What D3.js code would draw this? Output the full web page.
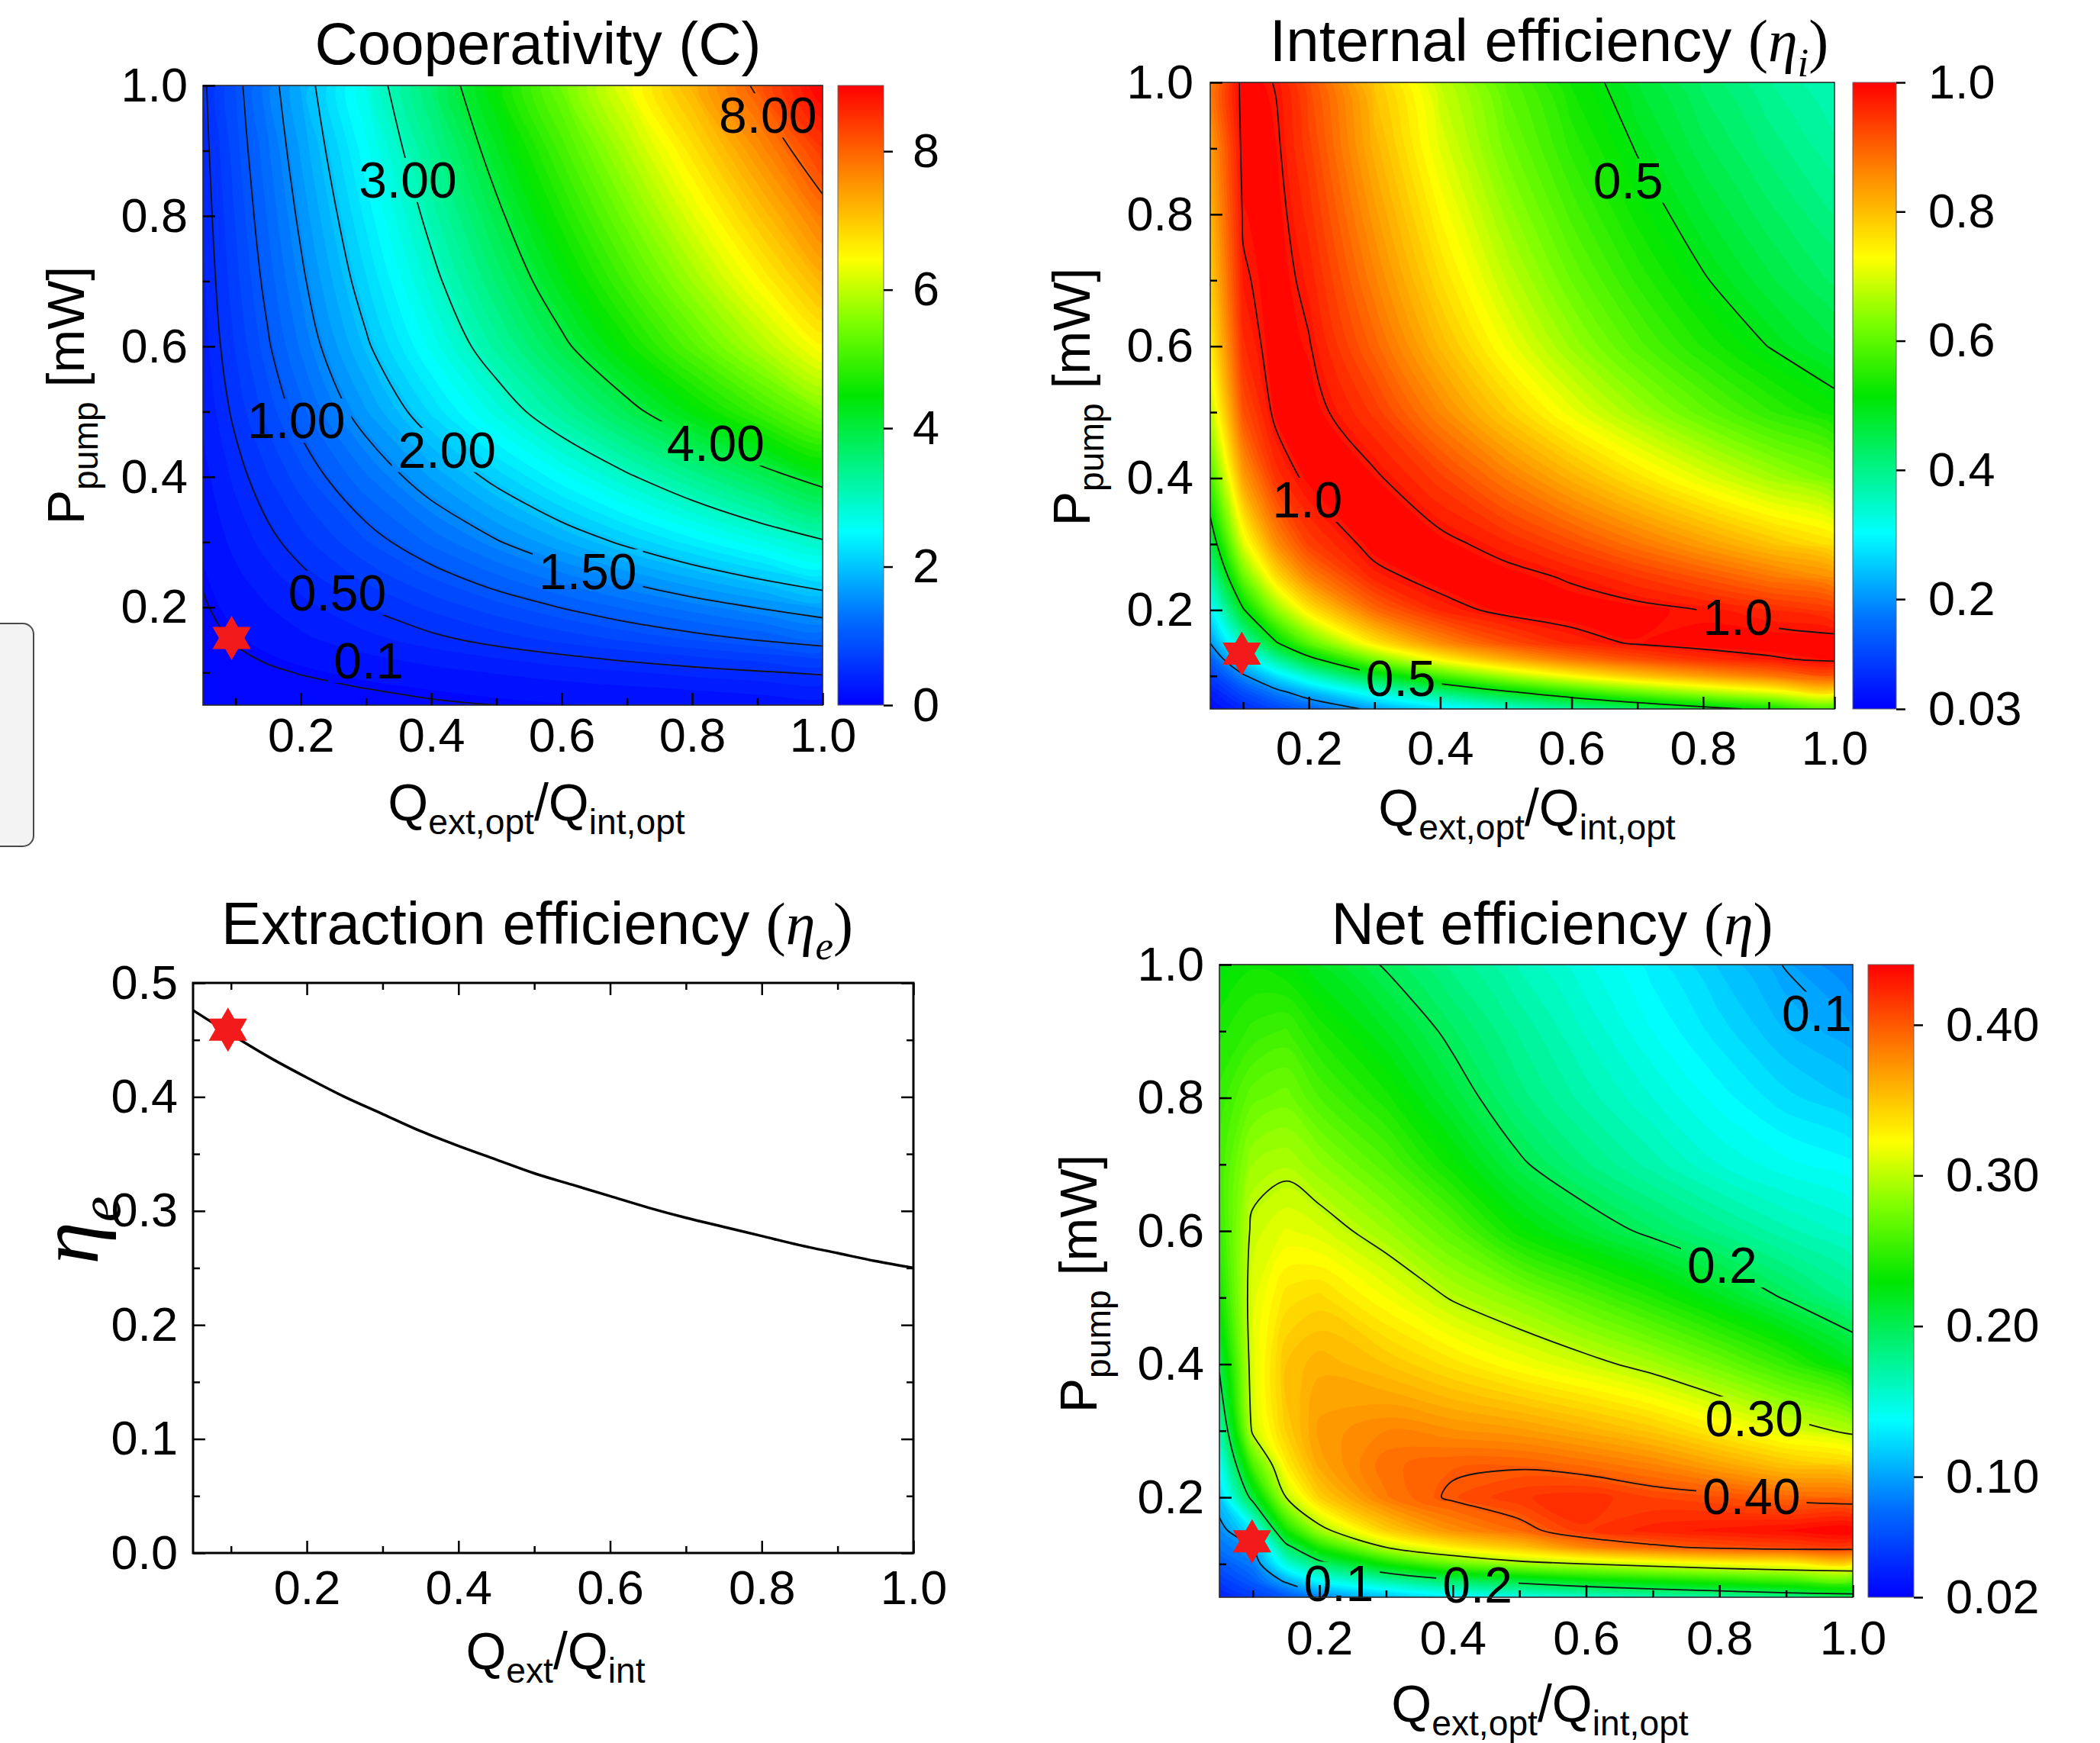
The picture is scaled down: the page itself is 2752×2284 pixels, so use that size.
<!DOCTYPE html>
<html>
<head>
<meta charset="utf-8">
<script src="https://cdn.jsdelivr.net/npm/d3@7"></script>
<style>
  body { margin: 0; background: #fff; }
</style>
</head>
<body>
<svg id="fig" width="2752" height="2284"></svg>
<script>
// grid axes shared by the three maps
const qRatio = [0.05, 0.1, 0.15, 0.2, 0.3, 0.4, 0.5, 0.6, 0.7, 0.8, 0.9, 1.0];
const pPump = [0.05, 0.075, 0.1, 0.125, 0.15, 0.2, 0.25, 0.3, 0.4, 0.5, 0.6, 0.7, 0.8, 0.9, 1.0];

// cooperativity C, one row per pump power
const coopGrid = [
  [0.01, 0.02, 0.03, 0.04, 0.06, 0.08, 0.1, 0.12, 0.14, 0.16, 0.18, 0.2],
  [0.017, 0.033, 0.05, 0.066, 0.099, 0.132, 0.165, 0.198, 0.231, 0.264, 0.297, 0.33],
  [0.027, 0.053, 0.08, 0.106, 0.159, 0.212, 0.265, 0.318, 0.371, 0.424, 0.477, 0.53],
  [0.04, 0.08, 0.12, 0.16, 0.24, 0.32, 0.4, 0.48, 0.56, 0.64, 0.72, 0.8],
  [0.056, 0.112, 0.168, 0.224, 0.336, 0.448, 0.56, 0.672, 0.784, 0.896, 1.008, 1.12],
  [0.084, 0.168, 0.252, 0.336, 0.504, 0.672, 0.84, 1.008, 1.176, 1.344, 1.512, 1.68],
  [0.115, 0.23, 0.345, 0.46, 0.69, 0.92, 1.15, 1.38, 1.61, 1.84, 2.07, 2.3],
  [0.148, 0.295, 0.443, 0.59, 0.885, 1.18, 1.475, 1.77, 2.065, 2.36, 2.655, 2.95],
  [0.21, 0.42, 0.63, 0.84, 1.26, 1.68, 2.1, 2.52, 2.94, 3.36, 3.78, 4.2],
  [0.275, 0.55, 0.825, 1.1, 1.65, 2.2, 2.75, 3.3, 3.85, 4.4, 4.95, 5.5],
  [0.325, 0.65, 0.975, 1.3, 1.95, 2.6, 3.25, 3.9, 4.55, 5.2, 5.85, 6.5],
  [0.36, 0.72, 1.08, 1.44, 2.16, 2.88, 3.6, 4.32, 5.04, 5.76, 6.48, 7.2],
  [0.39, 0.78, 1.17, 1.56, 2.34, 3.12, 3.9, 4.68, 5.46, 6.24, 7.02, 7.8],
  [0.42, 0.84, 1.26, 1.68, 2.52, 3.36, 4.2, 5.04, 5.88, 6.72, 7.56, 8.4],
  [0.45, 0.9, 1.35, 1.8, 2.7, 3.6, 4.5, 5.4, 6.3, 7.2, 8.1, 9.0]
];

// internal efficiency
const etaIntGrid = [
  [0.039, 0.077, 0.113, 0.148, 0.214, 0.274, 0.331, 0.383, 0.431, 0.476, 0.517, 0.556],
  [0.064, 0.124, 0.180, 0.232, 0.328, 0.412, 0.486, 0.552, 0.610, 0.661, 0.706, 0.746],
  [0.101, 0.191, 0.273, 0.347, 0.474, 0.577, 0.662, 0.732, 0.790, 0.836, 0.875, 0.906],
  [0.148, 0.274, 0.383, 0.476, 0.624, 0.735, 0.816, 0.877, 0.920, 0.952, 0.974, 0.988],
  [0.201, 0.362, 0.493, 0.598, 0.753, 0.855, 0.920, 0.962, 0.985, 0.997, 1.000, 0.997],
  [0.286, 0.493, 0.643, 0.753, 0.891, 0.962, 0.992, 1.000, 0.993, 0.979, 0.959, 0.936],
  [0.370, 0.608, 0.763, 0.863, 0.966, 0.998, 0.995, 0.975, 0.945, 0.913, 0.879, 0.845],
  [0.448, 0.704, 0.851, 0.934, 0.996, 0.993, 0.963, 0.923, 0.879, 0.836, 0.795, 0.756],
  [0.574, 0.833, 0.949, 0.992, 0.987, 0.936, 0.874, 0.814, 0.758, 0.707, 0.662, 0.621],
  [0.677, 0.916, 0.991, 0.998, 0.940, 0.859, 0.782, 0.714, 0.655, 0.604, 0.559, 0.521],
  [0.741, 0.955, 1.000, 0.983, 0.896, 0.803, 0.720, 0.650, 0.591, 0.541, 0.499, 0.462],
  [0.779, 0.974, 0.999, 0.968, 0.865, 0.765, 0.681, 0.611, 0.553, 0.504, 0.463, 0.428],
  [0.807, 0.985, 0.994, 0.952, 0.839, 0.735, 0.650, 0.580, 0.523, 0.476, 0.437, 0.403],
  [0.833, 0.992, 0.987, 0.936, 0.814, 0.707, 0.621, 0.553, 0.497, 0.451, 0.413, 0.380],
  [0.856, 0.997, 0.978, 0.918, 0.789, 0.681, 0.595, 0.527, 0.473, 0.428, 0.391, 0.360]
];

// net efficiency
const etaNetGrid = [
  [0.035, 0.05, 0.065, 0.085, 0.11, 0.13, 0.145, 0.155, 0.165, 0.172, 0.18, 0.185],
  [0.05, 0.07, 0.105, 0.14, 0.17, 0.195, 0.21, 0.225, 0.235, 0.245, 0.255, 0.26],
  [0.065, 0.085, 0.15, 0.19, 0.235, 0.27, 0.29, 0.30, 0.31, 0.32, 0.325, 0.33],
  [0.08, 0.097, 0.19, 0.24, 0.30, 0.33, 0.35, 0.38, 0.395, 0.405, 0.41, 0.41],
  [0.09, 0.13, 0.235, 0.29, 0.345, 0.375, 0.392, 0.415, 0.425, 0.43, 0.435, 0.44],
  [0.115, 0.21, 0.30, 0.345, 0.385, 0.403, 0.415, 0.42, 0.41, 0.405, 0.395, 0.39],
  [0.14, 0.26, 0.33, 0.365, 0.39, 0.397, 0.397, 0.39, 0.38, 0.365, 0.35, 0.34],
  [0.165, 0.305, 0.345, 0.37, 0.38, 0.375, 0.37, 0.36, 0.348, 0.33, 0.312, 0.295],
  [0.205, 0.312, 0.35, 0.36, 0.35, 0.335, 0.32, 0.307, 0.292, 0.273, 0.25, 0.22],
  [0.235, 0.312, 0.335, 0.34, 0.32, 0.298, 0.282, 0.262, 0.242, 0.22, 0.198, 0.178],
  [0.25, 0.305, 0.315, 0.31, 0.29, 0.265, 0.232, 0.212, 0.195, 0.18, 0.166, 0.155],
  [0.255, 0.29, 0.295, 0.285, 0.262, 0.232, 0.203, 0.183, 0.167, 0.152, 0.142, 0.135],
  [0.25, 0.27, 0.275, 0.26, 0.238, 0.21, 0.185, 0.167, 0.152, 0.137, 0.124, 0.115],
  [0.24, 0.25, 0.255, 0.24, 0.218, 0.195, 0.175, 0.157, 0.14, 0.125, 0.11, 0.099],
  [0.225, 0.235, 0.23, 0.218, 0.198, 0.18, 0.163, 0.147, 0.131, 0.115, 0.099, 0.085]
];

// extraction efficiency curve
const qExtRatio = [0.05, 0.1, 0.15, 0.2, 0.25, 0.3, 0.35, 0.4, 0.45, 0.5, 0.55, 0.6, 0.65, 0.7, 0.75, 0.8, 0.85, 0.9, 0.95, 1.0];
const etaExt = [0.476, 0.455, 0.435, 0.417, 0.400, 0.385, 0.370, 0.357, 0.345, 0.333, 0.323, 0.313, 0.303, 0.294, 0.286, 0.278, 0.270, 0.263, 0.256, 0.250];

// ticks
const majorTicks = [0.2, 0.4, 0.6, 0.8, 1.0];
const minorTicks = [0.1, 0.3, 0.5, 0.7, 0.9];
const etaTicks = [0, 0.1, 0.2, 0.3, 0.4, 0.5];
const etaMinorTicks = [0.05, 0.15, 0.25, 0.35, 0.45];
const coopBarTicks = [0, 2, 4, 6, 8];
const coopBarLabels = ["0", "2", "4", "6", "8"];
const intBarTicks = [0.03, 0.2, 0.4, 0.6, 0.8, 1.0];
const intBarLabels = ["0.03", "0.2", "0.4", "0.6", "0.8", "1.0"];
const netBarTicks = [0.02, 0.1, 0.2, 0.3, 0.4];
const netBarLabels = ["0.02", "0.10", "0.20", "0.30", "0.40"];

// contour levels and where their labels sit [text, Q ratio, P]
const coopLevels = [0.1, 0.5, 1, 1.5, 2, 3, 4, 8];
const coopLabels = [["8.00", 0.916, 0.955], ["3.00", 0.364, 0.856], ["1.00", 0.193, 0.487], ["2.00", 0.424, 0.442],
                    ["4.00", 0.836, 0.452], ["1.50", 0.64, 0.256], ["0.50", 0.256, 0.223], ["0.1", 0.304, 0.119]];
const intLevels = [0.2, 0.5, 0.98];
const intLabels = [["0.5", 0.686, 0.852], ["1.0", 0.198, 0.368], ["1.0", 0.853, 0.19], ["0.5", 0.34, 0.097]];
const netLevels = [0.1, 0.2, 0.3, 0.4];
const netLabels = [["0.1", 0.946, 0.927], ["0.2", 0.804, 0.549], ["0.30", 0.852, 0.319], ["0.40", 0.848, 0.202],
                   ["0.1", 0.229, 0.071], ["0.2", 0.437, 0.069]];

// rainbow colour map
const rampStops = [0, 0.14, 0.28, 0.5, 0.62, 0.72, 0.85, 1];
const rampColors = ["#0000ff", "#006eff", "#00ffff", "#00e600", "#80ff00", "#ffff00", "#ff8c00", "#ff0000"];

const FONT = '"Liberation Sans", Arial, Helvetica, sans-serif';
const SERIF = '"Liberation Serif", "DejaVu Serif", "Times New Roman", serif';

const svg = d3.select("#fig");
const defs = svg.append("defs");
const ramp = d3.scaleLinear().domain(rampStops).range(rampColors).interpolate(d3.interpolateRgb).clamp(true);

// six pointed star
const hexagram = {
  draw(ctx, size) {
    const r = Math.sqrt(size);
    [-Math.PI / 2, Math.PI / 2].forEach(a0 => {
      for (let k = 0; k < 3; k++) {
        const a = a0 + k * 2 * Math.PI / 3;
        if (k) ctx.lineTo(r * Math.cos(a), r * Math.sin(a));
        else ctx.moveTo(r * Math.cos(a), r * Math.sin(a));
      }
      ctx.closePath();
    });
  }
};

function richText(sel, parts, size) {
  let shifted = 0;
  parts.forEach(p => {
    const ts = sel.append("tspan").text(p.t);
    if (p.serif) ts.attr("font-family", SERIF);
    if (p.italic) ts.attr("font-style", "italic");
    const want = p.sub ? size * 0.26 : 0;
    if (want !== shifted) { ts.attr("dy", want - shifted); shifted = want; }
    ts.attr("font-size", p.sub ? size * 0.68 : size);
  });
}

function tickAxis(sel, axis, vals, len, pad, fmt) {
  axis.tickValues(vals).tickSizeInner(len).tickSizeOuter(0).tickPadding(pad)
      .tickFormat(fmt || (() => ""));
  sel.call(axis);
  sel.select(".domain").remove();
  sel.attr("font-size", 63).attr("font-family", FONT);
  sel.selectAll(".tick line").attr("stroke", "#000").attr("stroke-width", 2.5);
  sel.selectAll(".tick text").attr("fill", "#000");
}

function dedupe(pts) {
  const out = [];
  pts.forEach(p => {
    const q = out[out.length - 1];
    if (!q || Math.abs(q[0] - p[0]) > 0.3 || Math.abs(q[1] - p[1]) > 0.3) out.push(p);
  });
  if (out.length > 1) {
    const f = out[0], l = out[out.length - 1];
    if (Math.abs(f[0] - l[0]) < 0.3 && Math.abs(f[1] - l[1]) < 0.3) out.pop();
  }
  return out;
}

const closedCurve = d3.line().curve(d3.curveCatmullRomClosed.alpha(0.5));
const openCurve = d3.line().curve(d3.curveCatmullRom.alpha(0.5));

// cut a contour ring where it runs along the plot border
function splitRing(pts, b) {
  const near = (v, w) => Math.abs(v - w) < 0.6;
  const onEdge = (p, q) => (near(p[0], b.x0) && near(q[0], b.x0)) || (near(p[0], b.x1) && near(q[0], b.x1)) ||
                           (near(p[1], b.y0) && near(q[1], b.y0)) || (near(p[1], b.y1) && near(q[1], b.y1));
  const k = pts.length;
  const edge = d3.range(k).map(i => onEdge(pts[i], pts[(i + 1) % k]));
  const start = edge.indexOf(true);
  if (start < 0) return [closedCurve(pts)];
  const runs = [];
  let cur = null;
  for (let s = 1; s <= k; s++) {
    const i = (start + s) % k;
    if (edge[i]) { if (cur) { runs.push(cur); cur = null; } }
    else { if (!cur) cur = [pts[i]]; cur.push(pts[(i + 1) % k]); }
  }
  if (cur) runs.push(cur);
  return runs.filter(r => r.length > 1).map(r => openCurve(r));
}

function contourPanel(o) {
  const b = o.box;
  const x = d3.scaleLinear().domain([0.05, 1]).range([b.x0, b.x1]);
  const y = d3.scaleLinear().domain([0.05, 1]).range([b.y1, b.y0]);
  // grid coordinates -> data values (samples sit at cell centres)
  const gx = d3.scaleLinear().domain(qRatio.map((d, i) => i + 0.5)).range(qRatio).clamp(true);
  const gy = d3.scaleLinear().domain(pPump.map((d, i) => i + 0.5)).range(pPump).clamp(true);
  const proj = p => [x(gx(p[0])), y(gy(p[1]))];
  const [lo, hi] = o.cdomain;
  const color = v => ramp((v - lo) / (hi - lo));
  const n = qRatio.length, m = pPump.length;
  const values = o.grid.flat();

  const g = svg.append("g");
  defs.append("clipPath").attr("id", o.id + "-clip").append("rect")
    .attr("x", b.x0).attr("y", b.y0).attr("width", b.x1 - b.x0).attr("height", b.y1 - b.y0);
  const body = g.append("g").attr("clip-path", `url(#${o.id}-clip)`);

  const nb = 70, step = (hi - lo) / nb;
  const thr = d3.range(nb).map(k => lo + k * step);
  body.append("rect").attr("x", b.x0).attr("y", b.y0).attr("width", b.x1 - b.x0).attr("height", b.y1 - b.y0)
    .attr("fill", color(lo));
  body.selectAll("path.band")
    .data(d3.contours().size([n, m]).thresholds(thr)(values))
    .join("path")
    .attr("class", "band")
    .attr("d", c => c.coordinates.map(poly => poly.map(ring => {
      const pts = dedupe(ring.map(proj));
      return pts.length > 2 ? closedCurve(pts) : "";
    }).join("")).join(""))
    .attr("fill", c => color(c.value + step / 2))
    .attr("fill-rule", "evenodd");

  const linesG = body.append("g").attr("mask", `url(#${o.id}-mask)`);
  const labelG = g.append("g").attr("font-family", FONT).attr("font-size", 66).attr("fill", "#000");
  const lbl = labelG.selectAll("text").data(o.labels).join("text")
    .attr("x", d => x(d[1])).attr("y", d => y(d[2])).attr("dy", "0.36em")
    .attr("text-anchor", "middle").text(d => d[0]);

  const mask = defs.append("mask").attr("id", o.id + "-mask").attr("maskUnits", "userSpaceOnUse")
    .attr("x", 0).attr("y", 0).attr("width", 2752).attr("height", 2284);
  mask.append("rect").attr("width", 2752).attr("height", 2284).attr("fill", "#fff");
  lbl.each(function () {
    const bb = this.getBBox();
    mask.append("rect").attr("x", bb.x - 8).attr("y", bb.y + 8)
      .attr("width", bb.width + 16).attr("height", bb.height - 16).attr("fill", "#000");
  });

  d3.contours().size([n, m]).thresholds(o.levels)(values).forEach(c => {
    c.coordinates.forEach(poly => poly.forEach(ring => {
      const pts = dedupe(ring.map(proj));
      if (pts.length < 2) return;
      splitRing(pts, b).forEach(d => {
        linesG.append("path").attr("d", d).attr("fill", "none")
          .attr("stroke", "#141414").attr("stroke-width", 1.8);
      });
    }));
  });

  g.append("path").attr("d", d3.symbol().type(hexagram).size(29 * 29)())
    .attr("transform", `translate(${x(o.star[0])},${y(o.star[1])})`).attr("fill", "#f21a1a");

  g.append("rect").attr("x", b.x0).attr("y", b.y0).attr("width", b.x1 - b.x0).attr("height", b.y1 - b.y0)
    .attr("fill", "none").attr("stroke", "#2a2a2a").attr("stroke-width", 1.6);

  const f1 = d3.format(".1f");
  tickAxis(g.append("g").attr("transform", `translate(0,${b.y1})`), d3.axisBottom(x), majorTicks, -16, o.xpad, f1);
  tickAxis(g.append("g").attr("transform", `translate(0,${b.y1})`), d3.axisBottom(x), minorTicks, -9, 0, null);
  tickAxis(g.append("g").attr("transform", `translate(${b.x0},0)`), d3.axisLeft(y), majorTicks, -16, o.ypad, f1);
  tickAxis(g.append("g").attr("transform", `translate(${b.x0},0)`), d3.axisLeft(y), minorTicks, -9, 0, null);

  // colour bar
  const grad = defs.append("linearGradient").attr("id", o.id + "-grad")
    .attr("x1", 0).attr("y1", 1).attr("x2", 0).attr("y2", 0);
  d3.range(0, 1.0001, 0.02).forEach(t => grad.append("stop").attr("offset", t).attr("stop-color", ramp(t)));
  const cb = o.cbar;
  const cy = d3.scaleLinear().domain([lo, hi]).range([b.y1, b.y0]);
  g.append("rect").attr("x", cb.x0).attr("y", b.y0).attr("width", cb.x1 - cb.x0).attr("height", b.y1 - b.y0)
    .attr("fill", `url(#${o.id}-grad)`).attr("stroke", "#666").attr("stroke-width", 1);
  tickAxis(g.append("g").attr("transform", `translate(${cb.x1},0)`), d3.axisRight(cy), o.cticks, 12, o.cpad,
           (d, i) => o.clabels[i]);

  g.append("text").attr("x", o.title[0]).attr("y", o.title[1]).attr("text-anchor", "middle")
    .attr("font-family", FONT).call(richText, o.title[2], 78);
  g.append("text").attr("text-anchor", "middle").attr("font-family", FONT)
    .attr("transform", `translate(${o.ylab[0]},${o.ylab[1]}) rotate(-90)`)
    .call(richText, [{ t: "P" }, { t: "pump", sub: 1 }, { t: " [mW]" }], 68);
  g.append("text").attr("x", o.xlab[0]).attr("y", o.xlab[1]).attr("text-anchor", "middle").attr("font-family", FONT)
    .call(richText, [{ t: "Q" }, { t: "ext,opt", sub: 1 }, { t: "/Q" }, { t: "int,opt", sub: 1 }], 68);
}

// stray UI box at the left border of the figure
svg.append("rect").attr("x", -24).attr("y", 817).attr("width", 68).attr("height", 292).attr("rx", 14)
  .attr("fill", "#f3f3f3").attr("stroke", "#4a4a4a").attr("stroke-width", 2);

contourPanel({
  id: "coop", grid: coopGrid, levels: coopLevels, labels: coopLabels,
  box: { x0: 266, x1: 1078, y0: 112, y1: 924 }, cbar: { x0: 1098, x1: 1158 },
  cdomain: [0, 8.95], cticks: coopBarTicks, clabels: coopBarLabels, cpad: 26,
  xpad: 16, ypad: 20, star: [0.094, 0.153],
  title: [705, 84, [{ t: "Cooperativity (C)" }]], ylab: [110, 518], xlab: [703, 1075]
});

contourPanel({
  id: "int", grid: etaIntGrid, levels: intLevels, labels: intLabels,
  box: { x0: 1586, x1: 2404, y0: 108, y1: 929 }, cbar: { x0: 2428, x1: 2485 },
  cdomain: [0.03, 1.0], cticks: intBarTicks, clabels: intBarLabels, cpad: 30,
  xpad: 28, ypad: 22, star: [0.098, 0.134],
  title: [2030, 80, [{ t: "Internal efficiency " }, { t: "(", serif: 1 }, { t: "η", serif: 1, italic: 1 },
                     { t: "i", serif: 1, italic: 1, sub: 1 }, { t: ")", serif: 1 }]],
  ylab: [1428, 520], xlab: [2001, 1082]
});

contourPanel({
  id: "net", grid: etaNetGrid, levels: netLevels, labels: netLabels,
  box: { x0: 1598, x1: 2428, y0: 1264, y1: 2093 }, cbar: { x0: 2448, x1: 2508 },
  cdomain: [0.02, 0.44], cticks: netBarTicks, clabels: netBarLabels, cpad: 30,
  xpad: 30, ypad: 20, star: [0.099, 0.134],
  title: [2034, 1237, [{ t: "Net efficiency " }, { t: "(", serif: 1 }, { t: "η", serif: 1, italic: 1 }, { t: ")", serif: 1 }]],
  ylab: [1437, 1682], xlab: [2018, 2256]
});

// extraction efficiency line chart
(function () {
  const b = { x0: 253, x1: 1197, y0: 1288, y1: 2035 };
  const x = d3.scaleLinear().domain([0.05, 1]).range([b.x0, b.x1]);
  const y = d3.scaleLinear().domain([0, 0.5]).range([b.y1, b.y0]);
  const g = svg.append("g");
  const f1 = d3.format(".1f");

  g.append("path").datum(d3.zip(qExtRatio, etaExt))
    .attr("d", d3.line().x(d => x(d[0])).y(d => y(d[1])).curve(d3.curveMonotoneX))
    .attr("fill", "none").attr("stroke", "#000").attr("stroke-width", 3.5);

  tickAxis(g.append("g").attr("transform", `translate(0,${b.y1})`), d3.axisBottom(x), majorTicks, -16, 22, f1);
  tickAxis(g.append("g").attr("transform", `translate(0,${b.y1})`), d3.axisBottom(x), minorTicks, -9, 0, null);
  tickAxis(g.append("g").attr("transform", `translate(0,${b.y0})`), d3.axisTop(x), majorTicks, -16, 0, null);
  tickAxis(g.append("g").attr("transform", `translate(0,${b.y0})`), d3.axisTop(x), minorTicks, -9, 0, null);
  tickAxis(g.append("g").attr("transform", `translate(${b.x0},0)`), d3.axisLeft(y), etaTicks, -16, 20, f1);
  tickAxis(g.append("g").attr("transform", `translate(${b.x0},0)`), d3.axisLeft(y), etaMinorTicks, -9, 0, null);
  tickAxis(g.append("g").attr("transform", `translate(${b.x1},0)`), d3.axisRight(y), etaTicks, -16, 0, null);
  tickAxis(g.append("g").attr("transform", `translate(${b.x1},0)`), d3.axisRight(y), etaMinorTicks, -9, 0, null);

  g.append("rect").attr("x", b.x0).attr("y", b.y0).attr("width", b.x1 - b.x0).attr("height", b.y1 - b.y0)
    .attr("fill", "none").attr("stroke", "#000").attr("stroke-width", 3);

  g.append("path").attr("d", d3.symbol().type(hexagram).size(29 * 29)())
    .attr("transform", `translate(${x(0.096)},${y(0.459)})`).attr("fill", "#f21a1a");

  g.append("text").attr("x", 704).attr("y", 1237).attr("text-anchor", "middle").attr("font-family", FONT)
    .call(richText, [{ t: "Extraction efficiency " }, { t: "(", serif: 1 }, { t: "η", serif: 1, italic: 1 },
                     { t: "e", serif: 1, italic: 1, sub: 1 }, { t: ")", serif: 1 }], 78);
  g.append("text").attr("x", 728).attr("y", 2187).attr("text-anchor", "middle").attr("font-family", FONT)
    .call(richText, [{ t: "Q" }, { t: "ext", sub: 1 }, { t: "/Q" }, { t: "int", sub: 1 }], 68);
  g.append("text").attr("text-anchor", "middle").attr("font-family", SERIF)
    .attr("transform", "translate(128,1612) rotate(-90)")
    .call(richText, [{ t: "η", serif: 1, italic: 1 }, { t: "e", serif: 1, italic: 1, sub: 1 }], 112);
})();
</script>
</body>
</html>
